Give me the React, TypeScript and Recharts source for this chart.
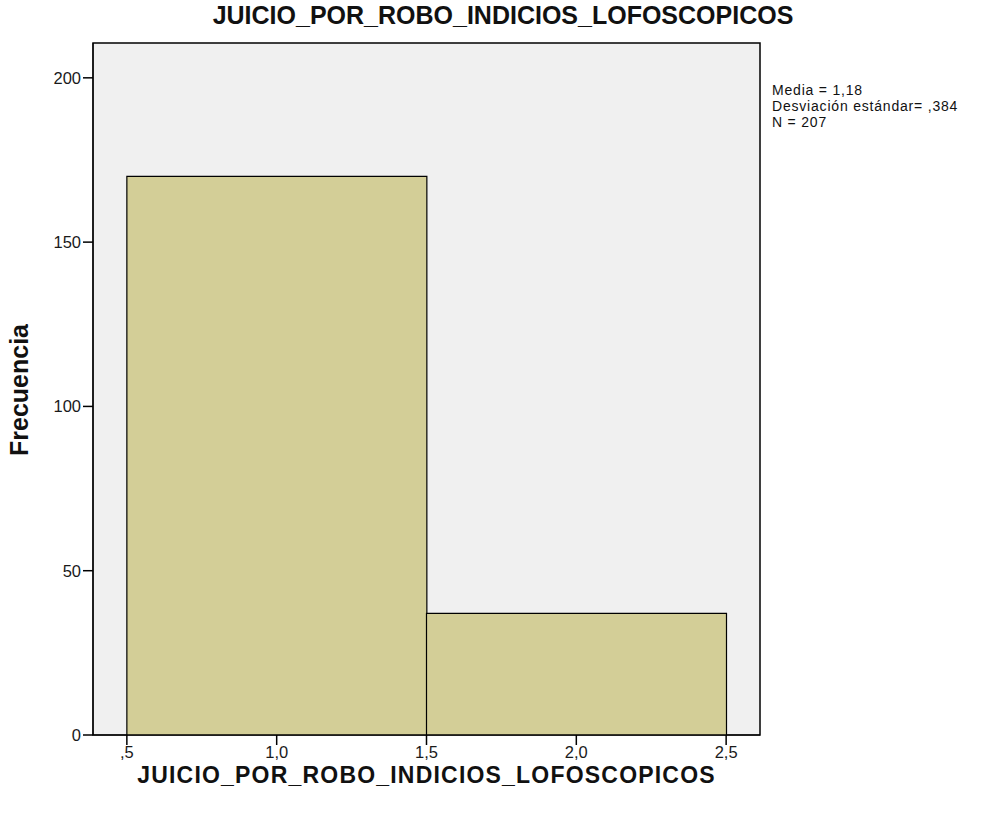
import {
  ComposedChart,
  Bar,
  XAxis,
  YAxis,
  CartesianGrid,
  ReferenceArea,
} from "recharts";

// histogram bins (midpoints) and frequencies
const binMids = [1.0, 2.0];
const counts = [170, 37];
const xTicks = [0.5, 1.0, 1.5, 2.0, 2.5];
const yTicks = [0, 50, 100, 150, 200];
const statLines = ["Media = 1,18", "Desviación estándar= ,384", "N = 207"];

const X_DOMAIN: [number, number] = [0.387, 2.613];
const Y_DOMAIN: [number, number] = [0, 210.6];

const data = binMids.map((mid, i) => ({ mid, count: counts[i] }));

const FONT = "'Liberation Sans', Arial, sans-serif";
const TICK = { fill: "#1a1a1a", fontSize: 16.5, fontFamily: FONT };

const W = 989;
const H = 814;
const MARGIN = { top: 43, right: 229, bottom: 44, left: 40 };

// ",5" / "1,0" style labels like SPSS
const fmtX = (v: number) => {
  const s = v.toFixed(1).replace(".", ",");
  return s.startsWith("0") ? s.slice(1) : s;
};

export default function App() {
  return (
    <div
      style={{
        position: "absolute",
        left: 0,
        top: 0,
        width: W,
        height: H,
        background: "#fff",
        fontFamily: FONT,
        color: "#111",
      }}
    >
      <div
        style={{
          position: "absolute",
          left: 0,
          width: 1006,
          top: 1,
          textAlign: "center",
          fontSize: 25,
          fontWeight: "bold",
        }}
      >
        JUICIO_POR_ROBO_INDICIOS_LOFOSCOPICOS
      </div>

      <ComposedChart
        width={W}
        height={H}
        data={data}
        margin={MARGIN}
        barCategoryGap={0}
        barGap={0}
      >
        <CartesianGrid fill="#F0F0F0" horizontal={false} vertical={false} />
        <XAxis
          dataKey="mid"
          type="number"
          domain={X_DOMAIN}
          ticks={xTicks}
          tickFormatter={fmtX}
          height={35}
          tickSize={10}
          tickMargin={1}
          tickLine={{ stroke: "#000", strokeWidth: 1.5 }}
          axisLine={{ stroke: "#000" }}
          tick={TICK}
          interval={0}
          allowDataOverflow
        />
        <YAxis
          domain={Y_DOMAIN}
          ticks={yTicks}
          width={53}
          tickSize={10}
          tickLine={{ stroke: "#000", strokeWidth: 1.5 }}
          axisLine={{ stroke: "#000" }}
          tick={TICK}
          interval={0}
          allowDataOverflow
        />
        <Bar
          dataKey="count"
          fill="#D3CE97"
          stroke="#000"
          strokeWidth={1.2}
          isAnimationActive={false}
        />
        <ReferenceArea
          x1={X_DOMAIN[0]}
          x2={X_DOMAIN[1]}
          y1={Y_DOMAIN[0]}
          y2={Y_DOMAIN[1]}
          fill="none"
          stroke="#000"
          strokeWidth={1.5}
          ifOverflow="visible"
        />
      </ComposedChart>

      <div style={{ position: "absolute", left: 19, top: 390, width: 0, height: 0 }}>
        <div
          style={{
            position: "absolute",
            left: 0,
            top: 0,
            transform: "translate(-50%, -50%) rotate(-90deg)",
            fontSize: 25,
            fontWeight: "bold",
            whiteSpace: "nowrap",
          }}
        >
          Frecuencia
        </div>
      </div>

      <div
        style={{
          position: "absolute",
          left: 0,
          width: 853,
          top: 765,
          textAlign: "center",
          fontSize: 23,
          lineHeight: "21px",
          letterSpacing: 1.2,
          fontWeight: "bold",
        }}
      >
        JUICIO_POR_ROBO_INDICIOS_LOFOSCOPICOS
      </div>

      <div
        style={{
          position: "absolute",
          left: 772,
          top: 82,
          fontSize: 14,
          lineHeight: "16px",
          letterSpacing: 0.8,
        }}
      >
        {statLines.map((s) => (
          <div key={s}>{s}</div>
        ))}
      </div>
    </div>
  );
}
